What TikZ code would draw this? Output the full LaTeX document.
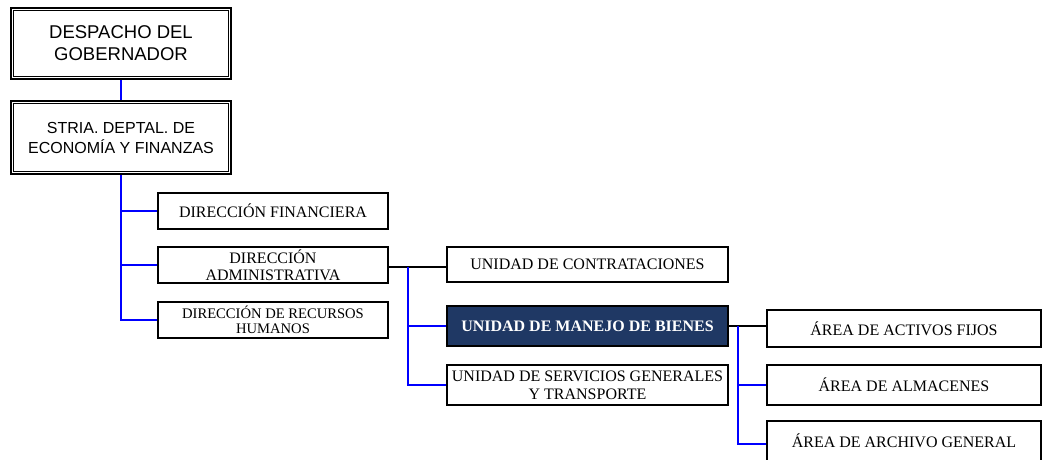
\documentclass[tikz,border=0pt]{standalone}
\usepackage{fontspec}
\setmainfont{Liberation Serif}
\newfontfamily\arialf{Liberation Sans}
\definecolor{navy}{RGB}{31,56,100}
\definecolor{linkblue}{RGB}{0,0,255}
\tikzset{
  dbox/.style={draw, line width=2pt, inner sep=0pt, align=center, font=\arialf\fontsize{16}{20}\selectfont},
  ubox/.style={draw, line width=1.6pt, inner sep=0pt, align=center, font=\fontsize{16}{17}\selectfont},
  darkbox/.style={ubox, fill=navy, text=white, font=\bfseries\fontsize{16}{17}\selectfont},
  blueline/.style={draw=linkblue, line width=2pt},
  blackline/.style={draw=black, line width=2pt},
}
\newcommand{\innerframe}[1]{\draw[line width=1pt] ([shift={(3.5pt,-3.5pt)}]#1.north west) rectangle ([shift={(-3.5pt,3.5pt)}]#1.south east);}
\begin{document}
\begin{tikzpicture}[x=1pt,y=-1pt]
\clip (0,0) rectangle (1042,459);
\fill[white] (0,0) rectangle (1042,459);
% top boxes
\node[dbox, minimum width=220pt, minimum height=71pt, font=\arialf\fontsize{18.5}{22}\selectfont] (des) at (121,43.5) {DESPACHO DEL\\GOBERNADOR};
\innerframe{des}
\node[dbox, minimum width=220pt, minimum height=73pt] (str) at (121,137.5) {STRIA. DEPTAL. DE\\ECONOMÍA Y FINANZAS};
\innerframe{str}
% direcciones
\node[ubox, minimum width=230pt, minimum height=36pt] (df) at (273,211) {DIRECCIÓN FINANCIERA};
\node[ubox, minimum width=230pt, minimum height=36pt] (da) at (273,265) {DIRECCIÓN\\ADMINISTRATIVA};
\node[ubox, minimum width=230pt, minimum height=36pt, font=\fontsize{14.6}{15.5}\selectfont] (drh) at (273,320) {DIRECCIÓN DE RECURSOS\\HUMANOS};
% unidades
\node[ubox, minimum width=281pt, minimum height=35pt] (uc) at (587.5,264.5) {UNIDAD DE CONTRATACIONES};
\node[darkbox, minimum width=281pt, minimum height=40pt] (um) at (587.5,326) {UNIDAD DE MANEJO DE BIENES};
\node[ubox, minimum width=281pt, minimum height=40pt, font=\fontsize{16}{18}\selectfont] (us) at (587.5,385) {UNIDAD DE SERVICIOS GENERALES\\Y TRANSPORTE};
% areas
\node[ubox, minimum width=274pt, minimum height=37pt] (a1) at (904,328.5) {ÁREA DE ACTIVOS FIJOS};
\node[ubox, minimum width=274pt, minimum height=40pt] (a2) at (904,385) {ÁREA DE ALMACENES};
\node[ubox, minimum width=274pt, minimum height=40pt] (a3) at (904,441) {ÁREA DE ARCHIVO GENERAL};
% connectors
\draw[blueline] (des.south) -- (str.north);
\draw[blueline] (str.south) |- (drh.west);
\draw[blueline] (str.south |- df.west) -- (df.west);
\draw[blueline] (str.south |- da.west) -- (da.west);
\coordinate (b1) at (408,267);
\draw[blackline] (da.east |- b1) -- (b1 -| uc.west);
\draw[blueline] (b1) |- (us.west);
\draw[blueline] (b1 |- um.west) -- (um.west);
\coordinate (b2) at (738,326);
\draw[blackline] (um.east) -- (um.east -| a1.west);
\draw[blueline] (b2) |- ([yshift=-3pt]a3.west);
\draw[blueline] (b2 |- a2.west) -- (a2.west);
\end{tikzpicture}
\end{document}
